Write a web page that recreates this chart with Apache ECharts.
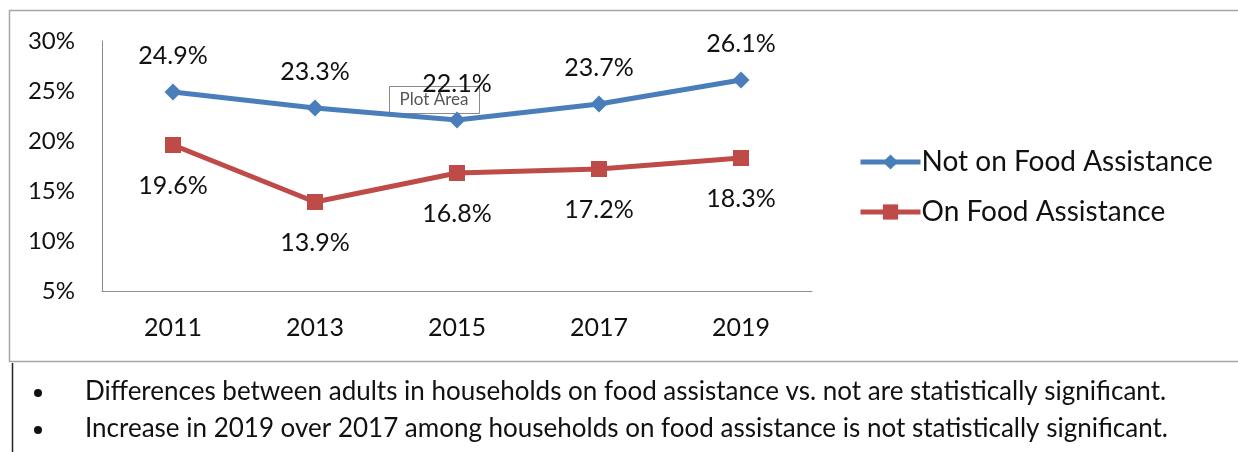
<!DOCTYPE html>
<html>
<head>
<meta charset="utf-8">
<script src="https://cdn.jsdelivr.net/npm/echarts@6/dist/echarts.min.js"></script>
<style>
html,body{margin:0;padding:0;background:#fff;}
#c{width:1238px;height:452px;}
</style>
</head>
<body>
<div id="c"></div>
<script>
var categories = ['2011', '2013', '2015', '2017', '2019'];
var notOnFoodAssistance = [24.9, 23.3, 22.1, 23.7, 26.1];
var onFoodAssistance = [19.6, 13.9, 16.8, 17.2, 18.3];
var seriesNames = ['Not on Food Assistance', 'On Food Assistance'];
var notes = [
  'Differences between adults in households on food assistance vs. not are statistically significant.',
  'Increase in 2019 over 2017 among households on food assistance is not statistically significant.'
];
var FONT = 'Lato';
var chart = echarts.init(document.getElementById('c'), null, {renderer: 'canvas'});
var option = {
  backgroundColor: '#ffffff',
  animation: false,
  textStyle: {fontFamily: FONT, color: '#111'},
  grid: {left: 102, right: 426, top: 41, bottom: 161},
  xAxis: {
    type: 'category',
    data: categories,
    boundaryGap: true,
    axisLine: {lineStyle: {color: '#8c8c8c', width: 1}},
    axisTick: {show: false},
    axisLabel: {fontSize: 25, color: '#111', margin: 24, fontFamily: FONT}
  },
  yAxis: {
    type: 'value',
    min: 5, max: 30, interval: 5,
    axisLine: {show: true, lineStyle: {color: '#8c8c8c', width: 1}},
    axisTick: {show: false},
    splitLine: {show: false},
    axisLabel: {formatter: '{value}%', fontSize: 24, color: '#111', margin: 27, fontFamily: FONT}
  },
  legend: {
    orient: 'vertical',
    left: 853, top: 143,
    itemWidth: 60, itemHeight: 19,
    itemGap: 22,
    lineStyle: {width: 5},
    textStyle: {fontSize: 28, color: '#111', fontFamily: FONT, padding: [0, 0, 0, -4]},
    data: seriesNames
  },
  series: [
    {
      name: seriesNames[0],
      type: 'line',
      data: notOnFoodAssistance,
      symbol: 'diamond',
      symbolSize: 17,
      lineStyle: {color: '#4a7ebb', width: 5},
      itemStyle: {color: '#4a7ebb'},
      label: {show: true, position: 'top', distance: 15, formatter: '{c}%', fontSize: 25, color: '#111', fontFamily: FONT}
    },
    {
      name: seriesNames[1],
      type: 'line',
      data: onFoodAssistance,
      symbol: 'rect',
      symbolSize: 16,
      lineStyle: {color: '#be4b48', width: 5},
      itemStyle: {color: '#be4b48'},
      label: {show: true, position: 'bottom', distance: 20, formatter: '{c}%', fontSize: 25, color: '#111', fontFamily: FONT}
    }
  ],
  graphic: [
    {type: 'rect', z: 0, shape: {x: 9.5, y: 10.5, width: 1240, height: 351}, style: {fill: 'none', stroke: '#a6a6a6', lineWidth: 1.5}},
    {type: 'line', z: 0, shape: {x1: 12.5, y1: 363, x2: 12.5, y2: 452}, style: {stroke: '#222', lineWidth: 1.5}},
    {type: 'circle', shape: {cx: 38, cy: 393, r: 4}, style: {fill: '#111'}},
    {type: 'circle', shape: {cx: 38, cy: 430, r: 4}, style: {fill: '#111'}},
    {type: 'text', x: 85, y: 392, style: {text: notes[0], fontSize: 26, fill: '#111', fontFamily: FONT, verticalAlign: 'middle'}},
    {type: 'text', x: 85, y: 429, style: {text: notes[1], fontSize: 26, fill: '#111', fontFamily: FONT, verticalAlign: 'middle'}},
    {type: 'group', left: 389, top: 86, z: 100, children: [
      {type: 'rect', shape: {x: 0.5, y: 0.5, width: 90, height: 27}, style: {fill: '#fff', stroke: '#8a8a8a', lineWidth: 1}},
      {type: 'text', x: 45, y: 14, style: {text: 'Plot Area', fontSize: 17, fill: '#555', fontFamily: FONT, align: 'center', verticalAlign: 'middle'}}
    ]}
  ]
};
chart.setOption(option);
</script>
</body>
</html>
